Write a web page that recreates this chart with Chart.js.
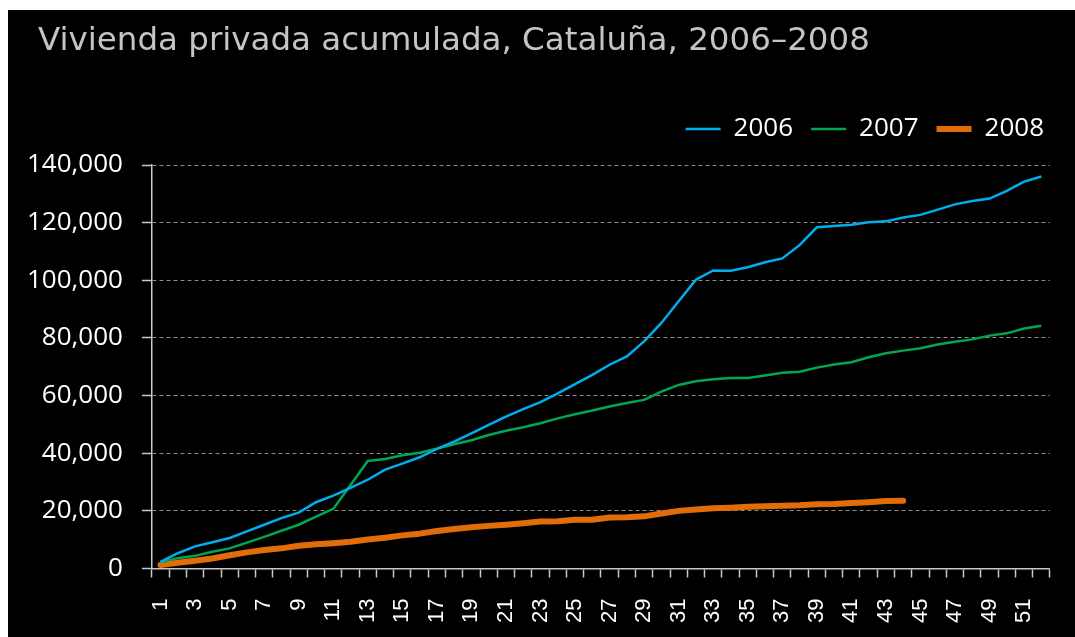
<!DOCTYPE html>
<html>
<head>
<meta charset="utf-8">
<script src="https://cdn.jsdelivr.net/npm/chart.js@4.4.1/dist/chart.umd.min.js"></script>
<style>
  html, body { margin: 0; padding: 0; background: #ffffff; }
  #wrap { position: absolute; left: 8px; top: 10px; width: 1067px; height: 627px; background: #000000; }
</style>
</head>
<body>
<div id="wrap"><canvas id="c"></canvas></div>
<script>
const weeks = Array.from({length: 52}, (_, i) => String(i + 1));

const series2006 = [
  2300, 5300, 7700, 9100, 10600, 12900, 15200, 17500, 19400, 23000,
  25300, 28000, 30800, 34300, 36400, 38600, 41500, 44000, 46900, 49800,
  52700, 55300, 57700, 60800, 64000, 67200, 70700, 73600, 78800, 85200,
  92700, 100200, 103400, 103300, 104550, 106250, 107600, 112200, 118400, 118800,
  119300, 120100, 120450, 121800, 122700, 124500, 126350, 127500, 128350, 131050,
  134250, 136000
];

const series2007 = [
  2200, 3600, 4400, 5800, 7000, 9000, 11000, 13100, 15200, 18000,
  20700, 29000, 37300, 38000, 39300, 40200, 41600, 43100, 44500, 46300,
  47800, 49000, 50400, 52100, 53500, 54800, 56200, 57400, 58500, 61400,
  63700, 65000, 65700, 66100, 66100, 67000, 67900, 68300, 69700, 70800,
  71600, 73300, 74700, 75600, 76400, 77700, 78700, 79500, 80800, 81600,
  83300, 84200
];

const series2008 = [
  1200, 2000, 2700, 3500, 4600, 5600, 6400, 7000, 7900, 8400,
  8800, 9300, 10100, 10700, 11500, 12100, 13000, 13700, 14300, 14800,
  15200, 15700, 16300, 16400, 16900, 16900, 17700, 17800, 18100, 19100,
  20000, 20500, 20900, 21100, 21400, 21600, 21800, 21950, 22300, 22400,
  22700, 23000, 23400, 23500
];

const seriesNames = ['2006', '2007', '2008'];
const titleText = 'Vivienda privada acumulada, Cataluña, 2006–2008';
const yMin = 0, yMax = 140000, yStep = 20000;

const titleShift = {
  id: 'titleShift',
  afterLayout(chart) {
    if (chart.titleBlock) { chart.titleBlock.left = 30; }
  }
};

const legendGap = {
  id: 'legendGap',
  beforeLayout(chart) {
    const lg = chart.legend;
    if (lg && !lg._gapPatched) {
      const orig = lg.fit.bind(lg);
      lg.fit = function() { orig(); this.height += 13; };
      lg._gapPatched = true;
    }
  }
};

new Chart(document.getElementById('c'), {
  type: 'line',
  data: {
    labels: weeks,
    datasets: [
      { label: seriesNames[0], data: series2006, borderColor: '#00aeef', backgroundColor: '#00aeef',
        borderWidth: 2.5, pointRadius: 0, tension: 0, fill: false },
      { label: seriesNames[1], data: series2007, borderColor: '#00a650', backgroundColor: '#00a650',
        borderWidth: 2.5, pointRadius: 0, tension: 0, fill: false },
      { label: seriesNames[2], data: series2008, borderColor: '#e36c0a', backgroundColor: '#e36c0a',
        borderWidth: 6, borderCapStyle: 'round', borderJoinStyle: 'round', pointRadius: 0, tension: 0, fill: false }
    ]
  },
  plugins: [titleShift, legendGap],
  options: {
    responsive: true,
    maintainAspectRatio: false,
    animation: false,
    layout: { padding: { left: 0, right: 13, top: 0, bottom: -7 } },
    plugins: {
      tooltip: { enabled: false },
      title: {
        display: true,
        text: titleText,
        align: 'start',
        color: '#c4c4c4',
        font: { family: "'DejaVu Sans', sans-serif", size: 32.5, weight: 'normal', lineHeight: 1.2 },
        padding: { top: 12.5, bottom: 36.5 }
      },
      legend: {
        display: true,
        position: 'top',
        align: 'end',
        labels: {
          color: '#ffffff',
          font: { family: "'Open Sans', sans-serif", size: 26 },
          usePointStyle: true,
          pointStyle: 'line',
          pointStyleWidth: 35,
          padding: 18
        }
      }
    },
    scales: {
      x: {
        type: 'category',
        offset: true,
        grid: {
          offset: true,
          drawOnChartArea: false,
          drawTicks: true,
          tickLength: 9,
          tickColor: '#c8c8c8',
          tickWidth: 1.5,
          color: '#c8c8c8'
        },
        border: { display: true, color: '#c8c8c8', width: 1.5 },
        ticks: {
          autoSkip: false,
          minRotation: 90,
          maxRotation: 90,
          padding: 21,
          color: '#ffffff',
          font: { family: "'Liberation Sans', Arial, sans-serif", size: 22, lineHeight: 0.57 },
          callback: function(value, index) { return index % 2 === 0 ? this.getLabelForValue(value) : ''; }
        }
      },
      y: {
        min: yMin,
        max: yMax,
        grid: {
          color: '#8c8c8c',
          lineWidth: 1,
          borderDash: [4, 3],
          drawTicks: true,
          tickLength: 10,
          tickColor: '#c8c8c8',
          tickWidth: 1.5,
          tickBorderDash: []
        },
        border: { display: true, color: '#c8c8c8', width: 1.5, dash: [4, 3] },
        ticks: {
          stepSize: yStep,
          padding: 19,
          color: '#ffffff',
          font: { family: "'Open Sans', sans-serif", size: 26 },
          callback: (v) => v.toLocaleString('en-US')
        }
      }
    }
  }
});
</script>
</body>
</html>
